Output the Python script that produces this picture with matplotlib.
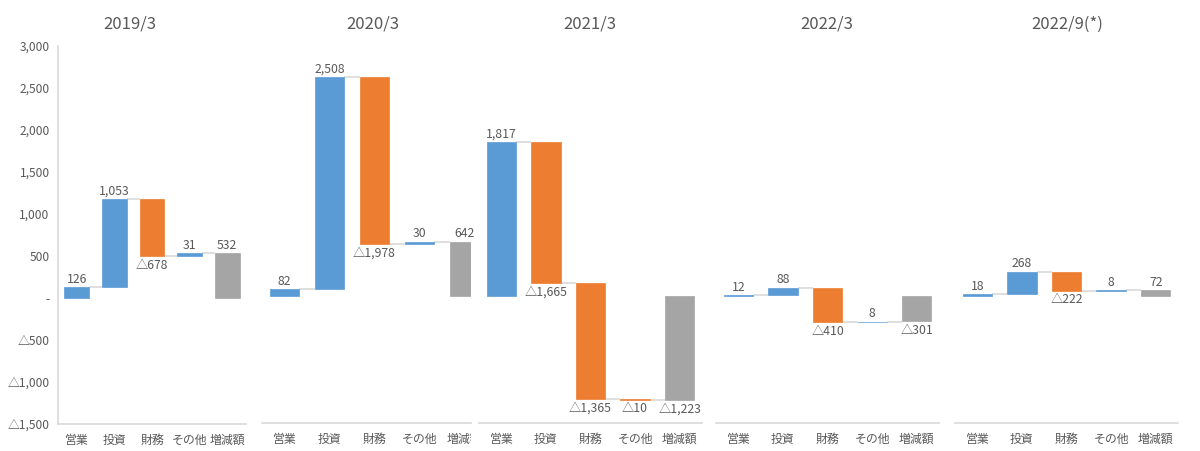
import matplotlib
matplotlib.use("Agg")
import matplotlib.pyplot as plt
from matplotlib.transforms import Bbox, TransformedBbox

plt.rcParams['font.family'] = ['Noto Sans CJK JP', 'DejaVu Sans']

# ---- data ----
periods = ["2019/3", "2020/3", "2021/3", "2022/3", "2022/9(*)"]
categories = ["営業", "投資", "財務", "その他", "増減額"]
flows_2019_3 = [126, 1053, -678, 31]
flows_2020_3 = [82, 2508, -1978, 30]
flows_2021_3 = [1817, -1665, -1365, -10]
flows_2022_3 = [12, 88, -410, 8]
flows_2022_9 = [18, 268, -222, 8]
totals = [532, 642, -1223, -301, 72]
all_flows = [flows_2019_3, flows_2020_3, flows_2021_3, flows_2022_3, flows_2022_9]
y_ticks = [-1500, -1000, -500, 0, 500, 1000, 1500, 2000, 2500, 3000]

BLUE = "#5B9BD5"
ORANGE = "#ED7D31"
GRAY = "#A5A5A5"
TXT = "#595959"
LINE = "#D9D9D9"

W, H = 1200, 451
fig = plt.figure(figsize=(W / 100, H / 100), dpi=100)


def rect(x0, x1, ytop, ybot):
    return [x0 / W, (H - ybot) / H, (x1 - x0) / W, (ybot - ytop) / H]


panel_px = [(58, 246, 46, 424), (262, 471, 42, 423), (479, 702, 42, 423),
            (716, 939, 42, 423), (955, 1178, 42, 423)]
slot_px = [37.6, 45, 44.6, 44.6, 44.6]
title_x = [130, 373, 590, 827, 1067]


def fmt(v):
    if v == 0:
        return "-"
    if v < 0:
        return "△{:,}".format(-v)
    return "{:,}".format(v)


LBL = 8.8
bw = 0.66
for k, (period, flows, total) in enumerate(zip(periods, all_flows, totals)):
    x0, x1, yt, yb = panel_px[k]
    ax = fig.add_axes(rect(x0, x1, yt, yb))
    ax.set_ylim(-1500, 3000)
    ax.set_xlim(-0.5, -0.5 + (x1 - x0) / slot_px[k])

    level = 0
    ends = []
    for i, v in enumerate(flows):
        start = level
        end = level + v
        color = BLUE if v >= 0 else ORANGE
        ax.bar(i, v, bottom=start, width=bw, color=color, edgecolor=color,
               linewidth=0.5, zorder=3)
        if v >= 0:
            ax.annotate(fmt(v), (i, max(start, end)), xytext=(0, 1),
                        textcoords="offset points", ha="center", va="bottom",
                        fontsize=LBL, color=TXT)
        else:
            ax.annotate(fmt(v), (i, min(start, end)), xytext=(0, -2),
                        textcoords="offset points", ha="center", va="top",
                        fontsize=LBL, color=TXT)
        ends.append(end)
        level = end
    # total bar
    ti = len(flows)
    ax.bar(ti, total, bottom=0, width=bw, color=GRAY, edgecolor=GRAY,
           linewidth=0.5, zorder=3)
    if total >= 0:
        ax.annotate(fmt(total), (ti, total), xytext=(0, 1),
                    textcoords="offset points", ha="center", va="bottom",
                    fontsize=LBL, color=TXT)
    else:
        ax.annotate(fmt(total), (ti, total), xytext=(0, -2),
                    textcoords="offset points", ha="center", va="top",
                    fontsize=LBL, color=TXT)
    # connectors
    for i, lv in enumerate(ends):
        ax.plot([i + bw / 2, i + 1 - bw / 2], [lv, lv], color=LINE, lw=1.2,
                zorder=2, solid_capstyle="butt")

    ax.set_xticks(range(len(categories)))
    ax.set_xticklabels(categories, fontsize=8.6, color=TXT)
    ax.tick_params(axis="x", length=0, pad=7)
    for s in ["top", "right"]:
        ax.spines[s].set_visible(False)
    ax.spines["bottom"].set_color(LINE)
    ax.spines["bottom"].set_linewidth(1.2)
    if k == 0:
        ax.set_yticks(y_ticks)
        ax.set_yticklabels([fmt(t) for t in y_ticks], fontsize=8.6, color=TXT)
        ax.tick_params(axis="y", length=0, pad=6)
        ax.spines["left"].set_color(LINE)
        ax.spines["left"].set_linewidth(1.2)
    else:
        ax.set_yticks([])
        ax.spines["left"].set_visible(False)
    if k == 1:
        clip = TransformedBbox(Bbox.from_extents(x0 / W - 0.02, 0, x1 / W, 1),
                               fig.transFigure)
        for lab in ax.get_xticklabels():
            lab.set_clip_box(clip)
            lab.set_clip_on(True)

    fig.text(title_x[k] / W, 1 - 24 / H, period, ha="center", va="center",
             fontsize=12, color=TXT)

fig.savefig("out.png", dpi=100)
